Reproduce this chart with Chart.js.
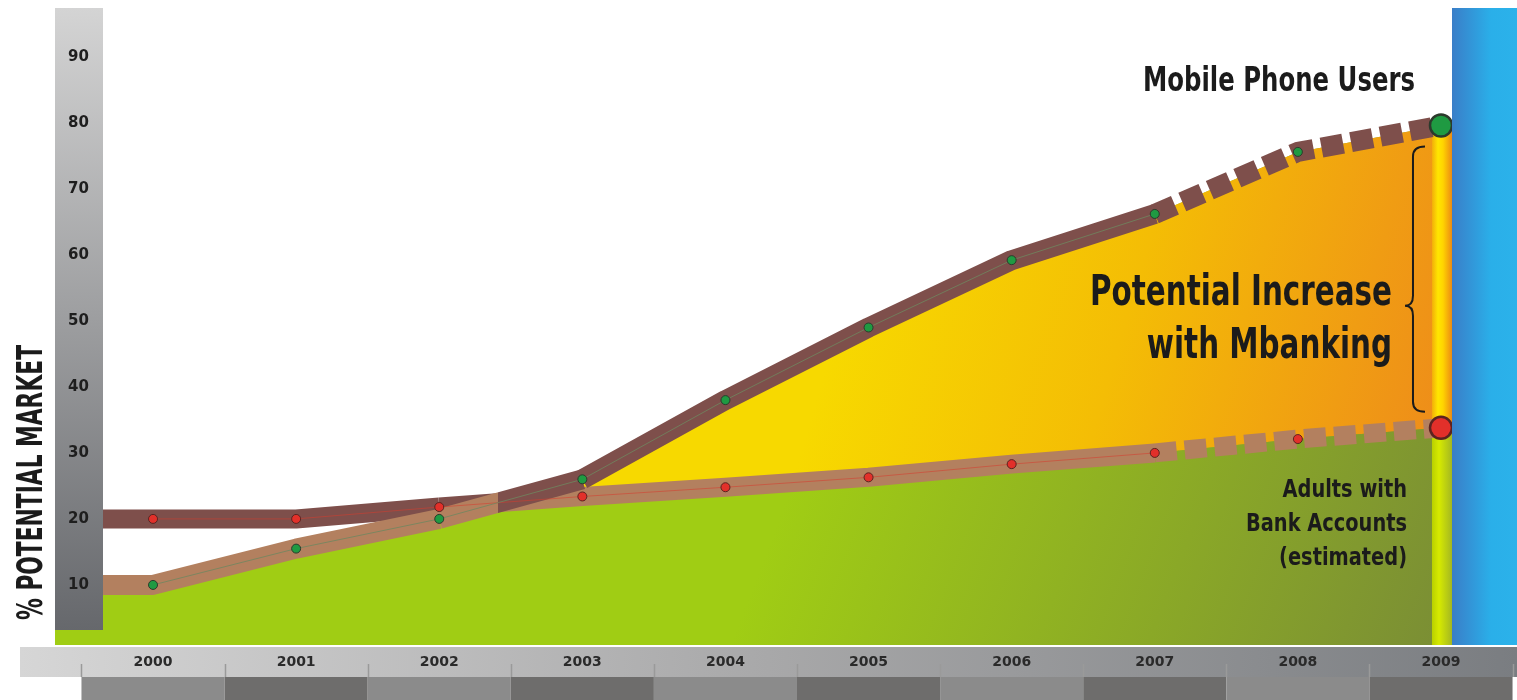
<!DOCTYPE html>
<html>
<head>
<meta charset="utf-8">
<title>Potential Increase with Mbanking</title>
<script src="https://cdn.jsdelivr.net/npm/chart.js@4.4.1/dist/chart.umd.min.js"></script>
<style>
  html, body { margin: 0; padding: 0; background: #fff; }
  #wrap { width: 1517px; height: 700px; }
</style>
</head>
<body>
<div id="wrap"><canvas id="marketChart" width="1517" height="700"></canvas></div>
<script>
const years = [2000, 2001, 2002, 2003, 2004, 2005, 2006, 2007, 2008, 2009];
const mobileUsers = [10, 15.5, 20, 26, 38, 49, 59.2, 66.2, 75.6, 79.6];
const bankAccounts = [20, 20, 21.8, 23.4, 24.8, 26.3, 28.3, 30, 32.1, 33.8];
const yTicks = [10, 20, 30, 40, 50, 60, 70, 80, 90];
const projectedFrom = 2007; // dashed bands from here on

// axis ranges
const X_MIN = 1999.315, X_MAX = 2009.077;
const Y_MIN = 0.9, Y_MAX = 97.4;

const DARK_BAND = '#7e4f4b';
const LIGHT_BAND = '#b3805f';
const NARROW = '"Liberation Sans Narrow", "DejaVu Sans Condensed", Roboto, sans-serif';
const WIDE = '"DejaVu Sans", Verdana, sans-serif';

// band lines start at the left edge of the plot
function bandData(values) {
    const pts = years.map((yr, i) => ({ x: yr, y: values[i] }));
    return [{ x: X_MIN, y: values[0] }].concat(pts);
}
function dotData(values) {
    return years.map((yr, i) => ({ x: yr, y: values[i] }));
}

// upper band is dark brown, lower band is tan; split at the crossing
function bandColor(ctx, otherIndex) {
    const chart = ctx.chart;
    const other = chart.data.datasets[otherIndex].data;
    const a0 = ctx.p0.parsed.y - other[ctx.p0DataIndex].y;
    const a1 = ctx.p1.parsed.y - other[ctx.p1DataIndex].y;
    if (a0 >= 0 && a1 >= 0) return DARK_BAND;
    if (a0 < 0 && a1 < 0) return LIGHT_BAND;
    const t = a0 / (a0 - a1);
    const c0 = a0 >= 0 ? DARK_BAND : LIGHT_BAND;
    const c1 = a0 >= 0 ? LIGHT_BAND : DARK_BAND;
    const g = chart.ctx.createLinearGradient(ctx.p0.x, 0, ctx.p1.x, 0);
    g.addColorStop(0, c0); g.addColorStop(t, c0);
    g.addColorStop(t, c1); g.addColorStop(1, c1);
    return g;
}
function bandDash(ctx) {
    return ctx.p0.parsed.x >= projectedFrom ? [22, 8] : undefined;
}

function greenFill(ctx) {
    const a = ctx.chart.chartArea;
    if (!a) return '#9fcb14';
    const w = a.right - a.left, h = a.bottom - a.top;
    const g = ctx.chart.ctx.createLinearGradient(a.left + w * 0.55, a.top + h * 0.62, a.right, a.bottom);
    g.addColorStop(0, '#a0cd14');
    g.addColorStop(1, '#7a8d35');
    return g;
}
function yellowFill(ctx) {
    const a = ctx.chart.chartArea;
    if (!a) return '#f5c800';
    const w = a.right - a.left, h = a.bottom - a.top;
    const g = ctx.chart.ctx.createLinearGradient(a.left + w * 0.58, a.top + h * 0.35, a.right, a.top + h * 0.62);
    g.addColorStop(0, '#f7d900');
    g.addColorStop(0.45, '#f4bd05');
    g.addColorStop(1, '#ee8c1a');
    return g;
}

function fitText(c, lines, x, y0, lineHeight, size, width, align) {
    c.font = 'bold ' + size + 'px ' + NARROW;
    const widest = Math.max(...lines.map(l => c.measureText(l).width));
    const sx = width / widest;
    lines.forEach((l, i) => {
        c.save();
        c.translate(x, y0 + i * lineHeight);
        c.scale(sx, 1);
        c.textAlign = align;
        c.textBaseline = 'alphabetic';
        c.fillText(l, 0, 0);
        c.restore();
    });
}

// 2009 column strip, drawn under the lines
const columnPlugin = {
    id: 'column2009',
    beforeDatasetsDraw(chart) {
        const c = chart.ctx, a = chart.chartArea;
        const xs = chart.scales.x, ys = chart.scales.y;
        const last = years.length - 1;
        const x0 = xs.getPixelForValue(years[last]) - 9;
        const yTop = ys.getPixelForValue(mobileUsers[last]);
        const yMid = ys.getPixelForValue(bankAccounts[last]);
        let g = c.createLinearGradient(x0, 0, a.right, 0);
        g.addColorStop(0, '#f2ad0a'); g.addColorStop(0.3, '#ffe600');
        g.addColorStop(0.55, '#ffd400'); g.addColorStop(1, '#ec8a14');
        c.fillStyle = g;
        c.fillRect(x0, yTop, a.right - x0, yMid - yTop);
        g = c.createLinearGradient(x0, 0, a.right, 0);
        g.addColorStop(0, '#b9d000'); g.addColorStop(0.35, '#d6ea00');
        g.addColorStop(1, '#a4b722');
        c.fillStyle = g;
        c.fillRect(x0, yMid, a.right - x0, a.bottom - yMid);
    }
};

// axes strips, blue side bar and labels
const decorPlugin = {
    id: 'decor',
    afterDatasetsDraw(chart) {
        const c = chart.ctx, a = chart.chartArea;
        const xs = chart.scales.x, ys = chart.scales.y;
        c.save();

        // y axis strip
        let g = c.createLinearGradient(0, a.top, 0, a.bottom - 15);
        g.addColorStop(0, '#d4d4d4'); g.addColorStop(1, '#66686c');
        c.fillStyle = g;
        c.fillRect(a.left, a.top, 48, a.bottom - 15 - a.top);
        c.fillStyle = '#1e1e1e';
        c.font = 'bold 15px ' + WIDE;
        c.textAlign = 'left';
        c.textBaseline = 'middle';
        yTicks.forEach(v => c.fillText(String(v), a.left + 13, ys.getPixelForValue(v)));

        // blue side bar
        g = c.createLinearGradient(a.right, 0, chart.width, 0);
        g.addColorStop(0, '#3a7ec8'); g.addColorStop(0.6, '#2aafe9'); g.addColorStop(1, '#2bb2ea');
        c.fillStyle = g;
        c.fillRect(a.right, a.top, chart.width - a.right, a.bottom - a.top);

        // x axis label strip
        g = c.createLinearGradient(20, 0, chart.width, 0);
        g.addColorStop(0, '#d6d6d6'); g.addColorStop(0.5, '#a8a8a9'); g.addColorStop(1, '#7a7d81');
        c.fillStyle = g;
        c.fillRect(20, a.bottom + 2, chart.width - 20, 30);

        years.forEach((yr, i) => {
            const l = xs.getPixelForValue(yr - 0.5), r = xs.getPixelForValue(yr + 0.5);
            c.fillStyle = i % 2 === 0 ? '#8b8b8b' : '#6e6d6c';
            c.fillRect(l, a.bottom + 32, r - l, chart.height - a.bottom - 32);
        });
        c.strokeStyle = '#9a9a9a';
        c.lineWidth = 1.5;
        years.concat([years[years.length - 1] + 1]).forEach(yr => {
            const x = Math.round(xs.getPixelForValue(yr - 0.5)) + 0.5;
            c.beginPath();
            c.moveTo(x, a.bottom + 19);
            c.lineTo(x, a.bottom + 32);
            c.stroke();
        });
        c.fillStyle = '#2a2a2a';
        c.font = 'bold 14px ' + WIDE;
        c.textAlign = 'center';
        c.textBaseline = 'middle';
        years.forEach(yr => c.fillText(String(yr), xs.getPixelForValue(yr), a.bottom + 17));

        c.restore();
    },
    afterDraw(chart) {
        const c = chart.ctx;
        const xs = chart.scales.x, ys = chart.scales.y;
        const last = years.length - 1;
        c.save();
        c.fillStyle = '#1b1b1b';

        // y axis title
        c.save();
        c.translate(42, 620);
        c.rotate(-Math.PI / 2);
        fitText(c, ['% POTENTIAL MARKET'], 0, 0, 0, 35, 275, 'left');
        c.restore();

        fitText(c, ['Mobile Phone Users'], 1415, 91, 0, 33, 272, 'right');
        fitText(c, ['Potential Increase', 'with Mbanking'], 1392, 305, 53, 42, 302, 'right');
        fitText(c, ['Adults with', 'Bank Accounts', '(estimated)'], 1407, 497, 34, 24, 161, 'right');

        // brace between the two 2009 values
        const xb = xs.getPixelForValue(years[last]) - 28;
        const top = ys.getPixelForValue(mobileUsers[last]) + 21;
        const bot = ys.getPixelForValue(bankAccounts[last]) - 16;
        const mid = top + (bot - top) * 0.6;
        c.strokeStyle = '#1b1b1b';
        c.lineWidth = 2;
        c.beginPath();
        c.moveTo(xb + 12, top);
        c.quadraticCurveTo(xb, top, xb, top + 10);
        c.lineTo(xb, mid - 10);
        c.quadraticCurveTo(xb, mid, xb - 8, mid);
        c.quadraticCurveTo(xb, mid, xb, mid + 10);
        c.lineTo(xb, bot - 10);
        c.quadraticCurveTo(xb, bot, xb + 12, bot);
        c.stroke();
        c.restore();
    }
};

const lastIndex = years.length - 1;
const ctx = document.getElementById('marketChart').getContext('2d');
const marketChart = new Chart(ctx, {
    type: 'line',
    data: {
        datasets: [
            {   // 0: green area under mobile users
                data: bandData(mobileUsers),
                fill: 'origin',
                backgroundColor: greenFill,
                borderWidth: 0,
                pointRadius: 0,
                order: 7
            },
            {   // 1: plain bank accounts line, used as fill target
                data: bandData(bankAccounts),
                fill: false,
                borderWidth: 0,
                pointRadius: 0,
                order: 8
            },
            {   // 2: gap between the two series where mobile is higher
                data: bandData(mobileUsers),
                fill: { target: 1, below: 'rgba(0,0,0,0)' },
                backgroundColor: yellowFill,
                borderWidth: 0,
                pointRadius: 0,
                order: 6
            },
            {   // 3: bank accounts band
                data: bandData(bankAccounts),
                fill: false,
                borderWidth: 19,
                borderColor: LIGHT_BAND,
                borderCapStyle: 'butt',
                borderJoinStyle: 'round',
                pointRadius: 0,
                segment: {
                    borderColor: c => bandColor(c, 4),
                    borderDash: bandDash
                },
                order: 3
            },
            {   // 4: mobile users band
                data: bandData(mobileUsers),
                fill: false,
                borderWidth: 20,
                borderColor: DARK_BAND,
                borderCapStyle: 'butt',
                borderJoinStyle: 'round',
                pointRadius: 0,
                segment: {
                    borderColor: c => bandColor(c, 3),
                    borderDash: bandDash
                },
                order: 2
            },
            {   // 5: bank account points
                data: dotData(bankAccounts),
                fill: false,
                borderWidth: 1,
                borderColor: 'rgba(214,60,45,0.55)',
                segment: {
                    borderColor: c => c.p0.parsed.x >= projectedFrom ? 'rgba(0,0,0,0)' : undefined
                },
                pointBackgroundColor: '#e2302a',
                pointBorderColor: '#5b2320',
                pointRadius: c => c.dataIndex === lastIndex ? 11 : 4.5,
                pointBorderWidth: c => c.dataIndex === lastIndex ? 2.5 : 1,
                order: 1
            },
            {   // 6: mobile user points
                data: dotData(mobileUsers),
                fill: false,
                borderWidth: 1,
                borderColor: 'rgba(110,135,95,0.8)',
                segment: {
                    borderColor: c => c.p0.parsed.x >= projectedFrom ? 'rgba(0,0,0,0)' : undefined
                },
                pointBackgroundColor: '#1f9a42',
                pointBorderColor: '#2c3a2c',
                pointRadius: c => c.dataIndex === lastIndex ? 11 : 4.5,
                pointBorderWidth: c => c.dataIndex === lastIndex ? 2.5 : 1,
                order: 0
            }
        ]
    },
    options: {
        responsive: false,
        animation: false,
        layout: { autoPadding: false, padding: { left: 55, right: 65, top: 8, bottom: 55 } },
        elements: { line: { tension: 0 } },
        scales: {
            x: { type: 'linear', min: X_MIN, max: X_MAX, display: false },
            y: { type: 'linear', min: Y_MIN, max: Y_MAX, display: false }
        },
        plugins: {
            legend: { display: false },
            tooltip: { enabled: false },
            filler: { drawTime: 'beforeDatasetsDraw' }
        }
    },
    plugins: [columnPlugin, decorPlugin]
});
</script>
</body>
</html>
